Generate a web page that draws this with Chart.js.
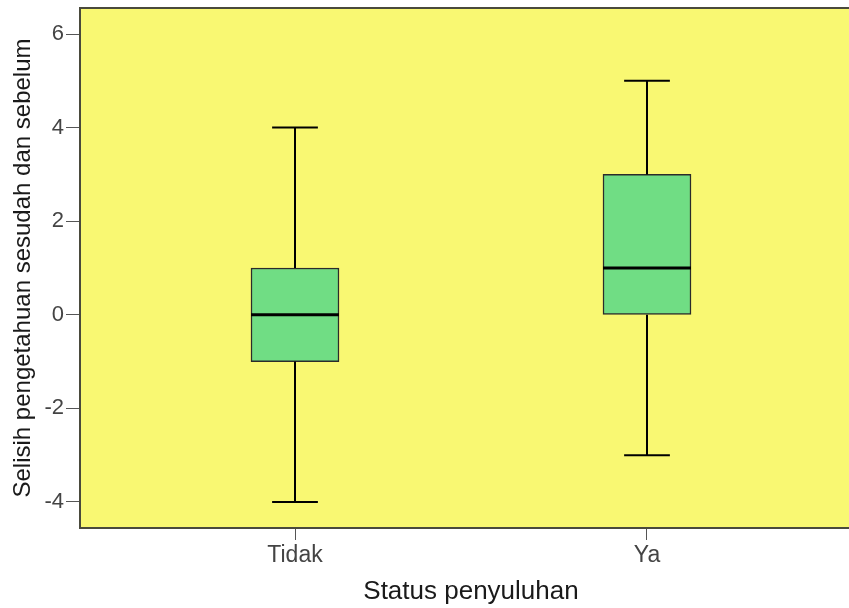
<!DOCTYPE html>
<html>
<head>
<meta charset="utf-8">
<script src="https://cdn.jsdelivr.net/npm/chart.js@4"></script>
<style>
  html, body { margin: 0; padding: 0; background: #fff; overflow: hidden; }
</style>
</head>
<body>
<canvas id="chart1" width="870" height="608"></canvas>
<script>
// boxplot values per group
const categories = ['Tidak', 'Ya']
const minVals = [-4, -3]
const q1Vals = [-1, 0]
const medianVals = [0, 1]
const q3Vals = [1, 3]
const maxVals = [4, 5]
const yTicks = [-4, -2, 0, 2, 4, 6]

// yellow plot background + frame
const plotFrame = {
    id: 'plotFrame',
    beforeDraw(chart) {
        const {ctx, chartArea: a} = chart
        ctx.save()
        ctx.fillStyle = '#F9F872'
        ctx.fillRect(a.left, a.top, a.right - a.left, a.bottom - a.top)
        ctx.restore()
    },
    afterDraw(chart) {
        const {ctx, chartArea: a} = chart
        ctx.save()
        ctx.strokeStyle = '#4a4a3c'
        ctx.lineWidth = 2
        ctx.strokeRect(a.left, a.top, a.right - a.left, a.bottom - a.top)
        ctx.restore()
    }
}

// whiskers and median drawn with the chart's own scales
const boxExtras = {
    id: 'boxExtras',
    afterDatasetsDraw(chart) {
        const {ctx, scales: {x, y}} = chart
        const bars = chart.getDatasetMeta(0).data
        ctx.save()
        categories.forEach((c, i) => {
            const cx = bars[i].x
            const half = bars[i].width / 2
            const cap = half * 0.52
            ctx.strokeStyle = '#000'
            ctx.lineWidth = 2
            ctx.beginPath()
            ctx.moveTo(cx, y.getPixelForValue(q3Vals[i]))
            ctx.lineTo(cx, y.getPixelForValue(maxVals[i]))
            ctx.moveTo(cx - cap, y.getPixelForValue(maxVals[i]))
            ctx.lineTo(cx + cap, y.getPixelForValue(maxVals[i]))
            ctx.moveTo(cx, y.getPixelForValue(q1Vals[i]))
            ctx.lineTo(cx, y.getPixelForValue(minVals[i]))
            ctx.moveTo(cx - cap, y.getPixelForValue(minVals[i]))
            ctx.lineTo(cx + cap, y.getPixelForValue(minVals[i]))
            ctx.stroke()
            ctx.lineWidth = 3
            ctx.beginPath()
            ctx.moveTo(cx - half, y.getPixelForValue(medianVals[i]))
            ctx.lineTo(cx + half, y.getPixelForValue(medianVals[i]))
            ctx.stroke()
        })
        ctx.restore()
    }
}

let chart = new Chart('chart1', {
    type: 'bar',
    data: {
        datasets: [
            {
                data: categories.map((c, i) => ({x: i, y: [q1Vals[i], q3Vals[i]]})),
                backgroundColor: '#70DD84',
                borderColor: '#2b2b2b',
                borderWidth: 1.5,
                borderSkipped: false,
                barThickness: 88
            }
        ]
    },
    options: {
        responsive: false,
        animation: false,
        layout: {
            padding: {top: 8, left: 0, right: 8, bottom: 0}
        },
        scales: {
            x: {
                type: 'linear',
                offset: false,
                min: -0.6108,
                max: 1.6108,
                afterBuildTicks: axis => { axis.ticks = categories.map((c, i) => ({value: i})) },
                afterFit: axis => { axis.height = 80; axis.paddingLeft = 0; axis.paddingRight = 0 },
                ticks: {
                    callback: v => categories[v],
                    color: '#444',
                    font: {family: 'Liberation Sans, Arial', size: 23},
                    padding: 2,
                    maxRotation: 0
                },
                grid: {drawOnChartArea: false, offset: false, tickLength: 12, color: '#555', lineWidth: 1},
                border: {display: false},
                title: {
                    display: true,
                    text: 'Status penyuluhan',
                    color: '#1a1a1a',
                    font: {family: 'Liberation Sans, Arial', size: 26},
                    padding: {top: 0, bottom: 1}
                }
            },
            y: {
                min: -4.556,
                max: 6.556,
                afterBuildTicks: axis => { axis.ticks = yTicks.map(v => ({value: v})) },
                afterFit: axis => { axis.width = 80; axis.paddingTop = 0; axis.paddingBottom = 0 },
                ticks: {
                    color: '#444',
                    font: {family: 'Liberation Sans, Arial', size: 22},
                    padding: 2
                },
                grid: {drawOnChartArea: false, tickLength: 14, color: '#555', lineWidth: 1},
                border: {display: false},
                title: {
                    display: true,
                    text: 'Selisih pengetahuan sesudah dan sebelum',
                    color: '#1a1a1a',
                    font: {family: 'Liberation Sans, Arial', size: 24},
                    padding: {top: 9, bottom: 0}
                }
            }
        },
        plugins: {
            legend: {display: false},
            tooltip: {enabled: false}
        }
    },
    plugins: [plotFrame, boxExtras]
})
</script>
</body>
</html>
